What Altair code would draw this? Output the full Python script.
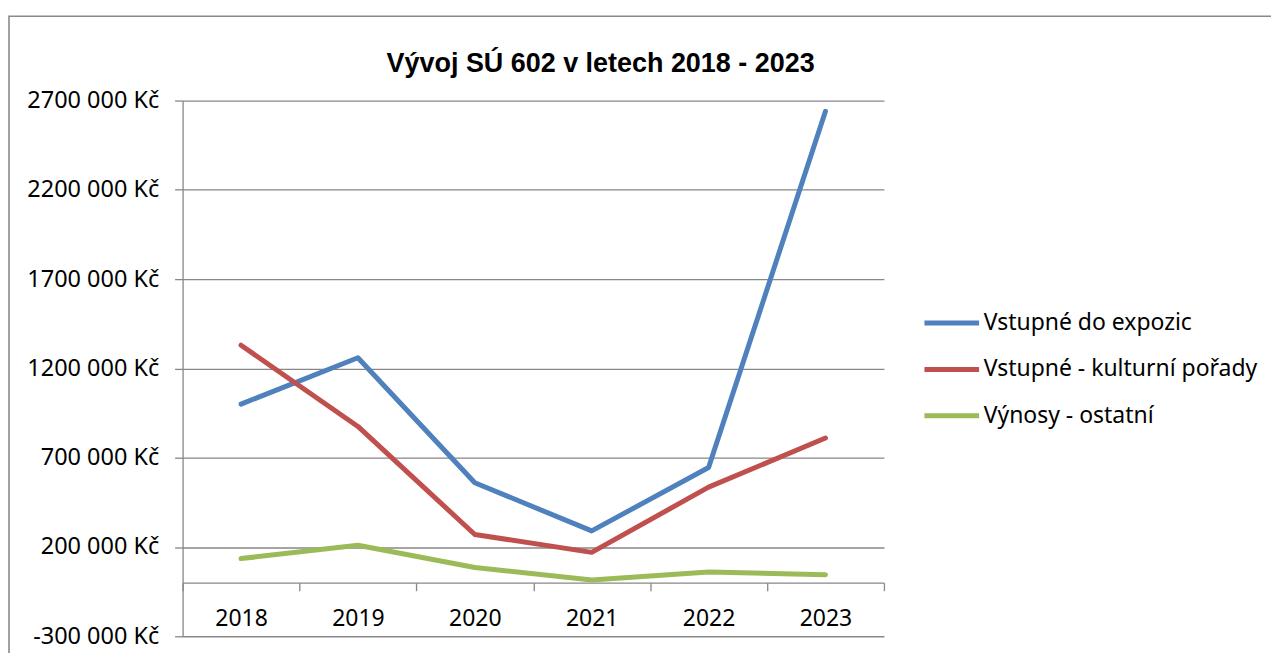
import altair as alt
import pandas as pd

years = ["2018", "2019", "2020", "2021", "2022", "2023"]
series_names = ["Vstupné do expozic", "Vstupné - kulturní pořady", "Výnosy - ostatní"]
vstupne_expozice = [1000000, 1260000, 560000, 290000, 645000, 2640000]
vstupne_porady = [1330000, 875000, 270000, 170000, 535000, 810000]
vynosy_ostatni = [135000, 210000, 85000, 15000, 60000, 45000]
y_ticks = [-300000, 200000, 700000, 1200000, 1700000, 2200000, 2700000]
colors = ["#4F81BD", "#C0504D", "#9BBB59"]
title_text = "Vývoj SÚ 602 v letech 2018 - 2023"

rows = []
for name, vals in zip(series_names, [vstupne_expozice, vstupne_porady, vynosy_ostatni]):
    for y, v in zip(years, vals):
        rows.append({"rok": y, "serie": name, "hodnota": v})
df = pd.DataFrame(rows)

W, H = 703, 537
ymin, ymax = -300000, 2700000
x_axis_offset = -(0 - ymin) / (ymax - ymin) * H

FONT = "Noto Sans"
GRID = "#878787"

lines = alt.Chart(df).mark_line(strokeWidth=5, strokeCap="round", strokeJoin="round").encode(
    x=alt.X("rok:O", sort=years, bandPosition=0.5,
            scale=alt.Scale(type="band", paddingInner=0, paddingOuter=0),
            axis=alt.Axis(title=None, labelAngle=0, labelFont=FONT, labelFontSize=23,
                          labelColor="#000000", domainColor=GRID, tickColor=GRID,
                          tickSize=8, tickBand="extent", labelPadding=17,
                          offset=x_axis_offset, grid=False, domainWidth=1.3, tickWidth=1.3)),
    y=alt.Y("hodnota:Q", scale=alt.Scale(domain=[ymin, ymax], nice=False, zero=False),
            axis=alt.Axis(title=None, values=y_ticks,
                          labelExpr="(datum.value < 0 ? '-' : '') + format(abs(datum.value) / 1000, 'd') + ' 000 Kč'",
                          labelFont=FONT, labelFontSize=23.5, labelColor="#000000",
                          labelPadding=16, tickSize=8, tickColor=GRID, domainColor=GRID,
                          gridColor=GRID, gridWidth=1.3, domainWidth=1.3, tickWidth=1.3,
                          grid=True)),
    color=alt.Color("serie:N", sort=series_names,
                    scale=alt.Scale(domain=series_names, range=colors),
                    legend=alt.Legend(title=None, orient="none", legendX=W + 38, legendY=193,
                                      symbolType="stroke", symbolStrokeWidth=5,
                                      symbolSize=3000, labelFont=FONT, labelFontSize=23,
                                      labelColor="#000000", rowPadding=4.5, labelOffset=2,
                                      labelLimit=400)),
)

border = alt.Chart(pd.DataFrame({"a": [0]})).mark_rect(
    fill=None, stroke="#8a8a8a", strokeWidth=1.6, clip=False
).encode(
    x=alt.value(-174), x2=alt.value(1300), y=alt.value(-84.5), y2=alt.value(800)
)

title = alt.Chart(pd.DataFrame({"t": [title_text]})).mark_text(
    font="Liberation Sans", fontSize=27, fontWeight="bold", color="#000000",
    align="center", baseline="alphabetic", clip=False
).encode(
    text="t:N", x=alt.value(419), y=alt.value(-29)
)

chart = alt.layer(border, lines, title).properties(
    width=W, height=H,
    autosize=alt.AutoSizeParams(type="none"),
    padding={"left": 175, "top": 92, "right": 388, "bottom": 16},
).configure_view(stroke=None)

chart.save("out.html", embed_options={"renderer": "svg", "actions": False})
